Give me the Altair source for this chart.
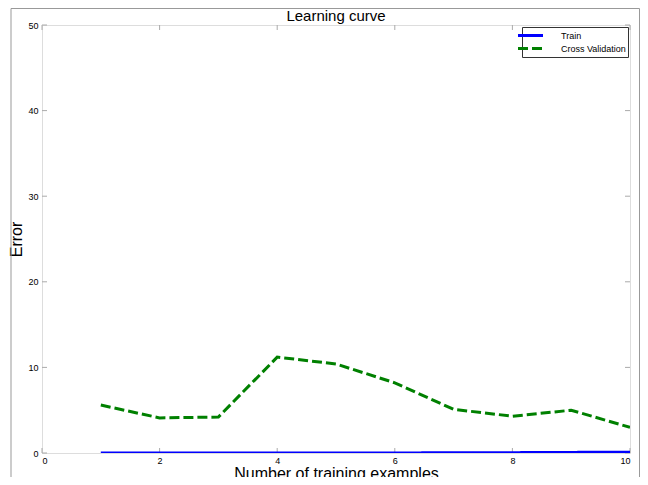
import altair as alt
import pandas as pd

m = [1, 2, 3, 4, 5, 6, 7, 8, 9, 10]
train_err = [0.0, 0.0, 0.0, 0.0, 0.0, 0.01, 0.02, 0.04, 0.07, 0.1]
cv_err = [5.6, 4.1, 4.2, 11.2, 10.4, 8.2, 5.1, 4.3, 5.0, 3.0]
series = ["Train", "Cross Validation"]
colors = ["#0000ff", "#008000"]
x_ticks = [0, 2, 4, 6, 8, 10]
y_ticks = [0, 10, 20, 30, 40, 50]

rows = []
for i, v in zip(m, train_err):
    rows.append({"m": i, "err": v, "series": "Train"})
for i, v in zip(m, cv_err):
    rows.append({"m": i, "err": v, "series": "Cross Validation"})
df = pd.DataFrame(rows)

W, H = 588, 428
FONT = "Liberation Sans"

xs = alt.Scale(domain=[0, 10], nice=False)
ys = alt.Scale(domain=[0, 50], nice=False)

lines = alt.Chart(df).mark_line(strokeWidth=3, clip=True).encode(
    x=alt.X("m:Q", scale=xs, axis=alt.Axis(
        values=x_ticks, format="d", title="Number of training examples", grid=False,
        domain=False, ticks=False, labelPadding=3, labelFontSize=9,
        labelFont=FONT, labelColor="black", titleFont=FONT, titleFontSize=16,
        titleFontWeight="normal", titleColor="black", titleY=25,
        titleBaseline="alphabetic")),
    y=alt.Y("err:Q", scale=ys, axis=alt.Axis(
        values=y_ticks, format="d", title="Error", grid=False, domain=False, ticks=False,
        labelPadding=4, labelFontSize=9, labelFont=FONT, labelColor="black",
        titleFont=FONT, titleFontSize=16, titleFontWeight="normal",
        titleColor="black", titlePadding=3)),
    color=alt.Color("series:N", scale=alt.Scale(domain=series, range=colors),
                    legend=alt.Legend(title=None, orient="top-right", offset=2,
                                      padding=2, strokeColor="#333",
                                      fillColor="white", labelFontSize=9,
                                      labelFont=FONT, labelColor="black",
                                      rowPadding=-2, symbolType="M-2.5,0H2.5",
                                      symbolSize=100, symbolStrokeWidth=3,
                                      labelOffset=24)),
    strokeDash=alt.StrokeDash("series:N",
                              scale=alt.Scale(domain=series, range=[[1, 0], [10, 4]]),
                              legend=None),
    order="m:Q",
)

xt = pd.DataFrame({"t": x_ticks})
yt = pd.DataFrame({"t": y_ticks})
tick_color = "#aaaaaa"

bt = alt.Chart(xt).mark_rule(color=tick_color).encode(
    x=alt.X("t:Q", scale=xs), y=alt.value(H), y2=alt.value(H - 5))
tt = alt.Chart(xt).mark_rule(color=tick_color).encode(
    x=alt.X("t:Q", scale=xs), y=alt.value(0), y2=alt.value(5))
lt = alt.Chart(yt).mark_rule(color=tick_color).encode(
    y=alt.Y("t:Q", scale=ys), x=alt.value(0), x2=alt.value(5))
rt = alt.Chart(yt).mark_rule(color=tick_color).encode(
    y=alt.Y("t:Q", scale=ys), x=alt.value(W), x2=alt.value(W - 5))

frame = alt.Chart(pd.DataFrame({"a": [0]})).mark_rect(
    fill=None, stroke="#999999", strokeWidth=1).encode(
    x=alt.value(-31), x2=alt.value(597.5), y=alt.value(-16.5), y2=alt.value(480))

chart = alt.layer(frame, bt, tt, lt, rt, lines).properties(
    width=W, height=H,
    title=alt.TitleParams("Learning curve", font=FONT, fontSize=15,
                          fontWeight="normal", color="black", offset=-16,
                          frame="group"),
    autosize=alt.AutoSizeParams(type="none"),
    padding={"left": 34, "top": 17, "right": 10, "bottom": 24},
).configure_view(stroke="#444444", strokeWidth=1.5).configure(background="white")

chart.save("out.html", embed_options={"renderer": "svg", "actions": False})
